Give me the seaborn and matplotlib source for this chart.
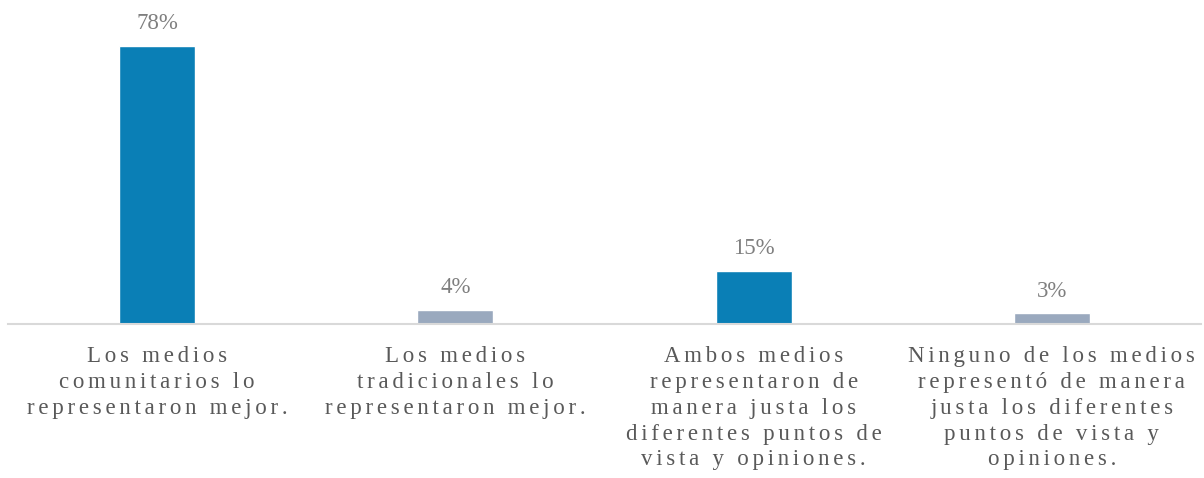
import matplotlib
matplotlib.use("Agg")
import matplotlib.pyplot as plt
import seaborn as sns
import pandas as pd

# Chart data
categories = [
    "Los medios\ncomunitarios lo\nrepresentaron mejor.",
    "Los medios\ntradicionales lo\nrepresentaron mejor.",
    "Ambos medios\nrepresentaron de\nmanera justa los\ndiferentes puntos de\nvista y opiniones.",
    "Ninguno de los medios\nrepresentó de manera\njusta los diferentes\npuntos de vista y\nopiniones.",
]
values = [78, 4, 15, 3]
value_labels = ["78%", "4%", "15%", "3%"]
bar_colors = ["#0a7fb6", "#9aa9be", "#0a7fb6", "#9aa9be"]

GAP = "\u2006"  # six-per-em space, used as letter spacing


def spaced(text):
    # fake letter spacing with narrow spaces between characters
    lines = []
    for line in text.split("\n"):
        lines.append(GAP.join(line))
    return "\n".join(lines)


sns.set_style("white")
plt.rcParams['font.family'] = ['Liberation Serif', 'DejaVu Serif']

df = pd.DataFrame({"cat": [str(i) for i in range(len(values))], "val": values})

fig = plt.figure(figsize=(12.04, 4.78), dpi=100)
ax = fig.add_axes([8 / 1204, 154 / 478, 1193 / 1204, 324 / 478])

sns.barplot(data=df, x="cat", y="val", hue="cat", palette=bar_colors,
            width=0.255, legend=False, ax=ax, saturation=1)

ax.set_xlim(-0.5, 3.5)
ax.set_ylim(0, 90.9)

for i, v in enumerate(values):
    ax.text(i, v + 3.3, value_labels[i], ha="center", va="bottom",
            fontsize=16.5, color="#7f7f7f")

ax.set_xticks(range(len(categories)))
ax.set_xticklabels([spaced(c) for c in categories], fontsize=16.5,
                   color="#595959", linespacing=1.3)
ax.tick_params(axis="x", length=0, pad=16)
ax.set_yticks([])
ax.set_xlabel("")
ax.set_ylabel("")

for s in ["top", "right", "left"]:
    ax.spines[s].set_visible(False)
ax.spines["bottom"].set_color("#d9d9d9")
ax.spines["bottom"].set_linewidth(1.5)

fig.savefig("out.png", dpi=100)
